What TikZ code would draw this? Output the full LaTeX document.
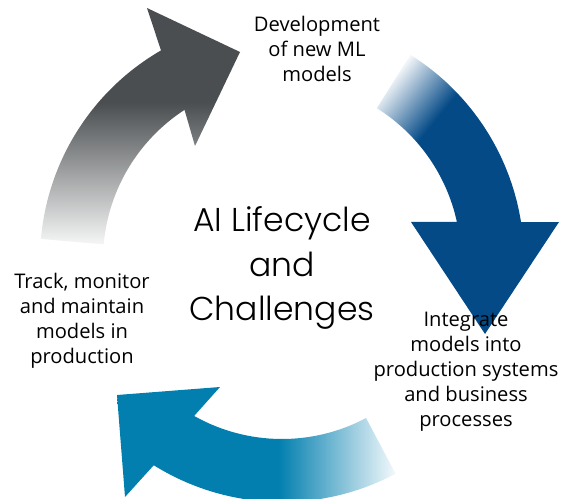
\documentclass[tikz,border=0pt]{standalone}
\usepackage{fontspec}
\setmainfont{Open Sans}
\newfontfamily\titlefont{Poppins Light}
\usetikzlibrary{positioning}

\definecolor{arrgray}{RGB}{74,78,80}
\definecolor{arrblue}{RGB}{4,74,135}
\definecolor{arrteal}{RGB}{2,127,175}
\colorlet{graylight}{arrgray!5!white}

\pgfdeclareverticalshading{grayshade}{100bp}{color(0bp)=(graylight); color(25bp)=(graylight); color(55bp)=(arrgray); color(100bp)=(arrgray)}
\pgfdeclareverticalshading{blueshade}{100bp}{color(0bp)=(arrblue); color(66bp)=(arrblue); color(80bp)=(white); color(100bp)=(white)}
\pgfdeclarehorizontalshading{tealshade}{100bp}{color(0bp)=(arrteal); color(54bp)=(arrteal); color(76bp)=(white); color(100bp)=(white)}

\tikzset{
	lbl/.style={align=center, font=\fontsize{17.2}{21.3}\selectfont},
	ttl/.style={align=center, font=\titlefont\fontsize{28.2}{38.3}\selectfont}
}

\begin{document}
\begin{tikzpicture}[x=0.03cm,y=0.03cm]

	\useasboundingbox (0,0) rectangle (564,498);

	% the three arrows round the centre
	\begin{scope}[shift={(282,238)}]
		\shade[shading=grayshade] (175:242) arc[start angle=175, end angle=120, radius=242]
			-- (-135,252) -- (-42,208) -- (-87,114)
			-- (123:179) arc[start angle=123, end angle=175, radius=179] -- cycle;
		\shade[shading=blueshade, shading angle=51] (58:242) arc[start angle=58, end angle=9, radius=242]
			-- (277,38) -- (203,-74) -- (129,38)
			-- (12.3:179) arc[start angle=12.3, end angle=58, radius=179] -- cycle;
		\shade[shading=tealshade] (-62:242) arc[start angle=-62, end angle=-122, radius=242]
			-- (-157,-237) -- (-165,-135) -- (-62,-127)
			-- (-119.4:179) arc[start angle=-119.4, end angle=-62, radius=179] -- cycle;
	\end{scope}

	\node[ttl] (L) at (282,230) {AI Lifecycle\\and\\Challenges};
	\node[lbl] (D) at (317,449) {Development\\of new ML\\models};
	\node[lbl] (I) at (466,126) {Integrate\\models into\\production systems\\and business\\processes};
	\node[lbl] (T) at (82,177.5) {Track, monitor\\and maintain\\models in\\production};
\end{tikzpicture}
\end{document}
